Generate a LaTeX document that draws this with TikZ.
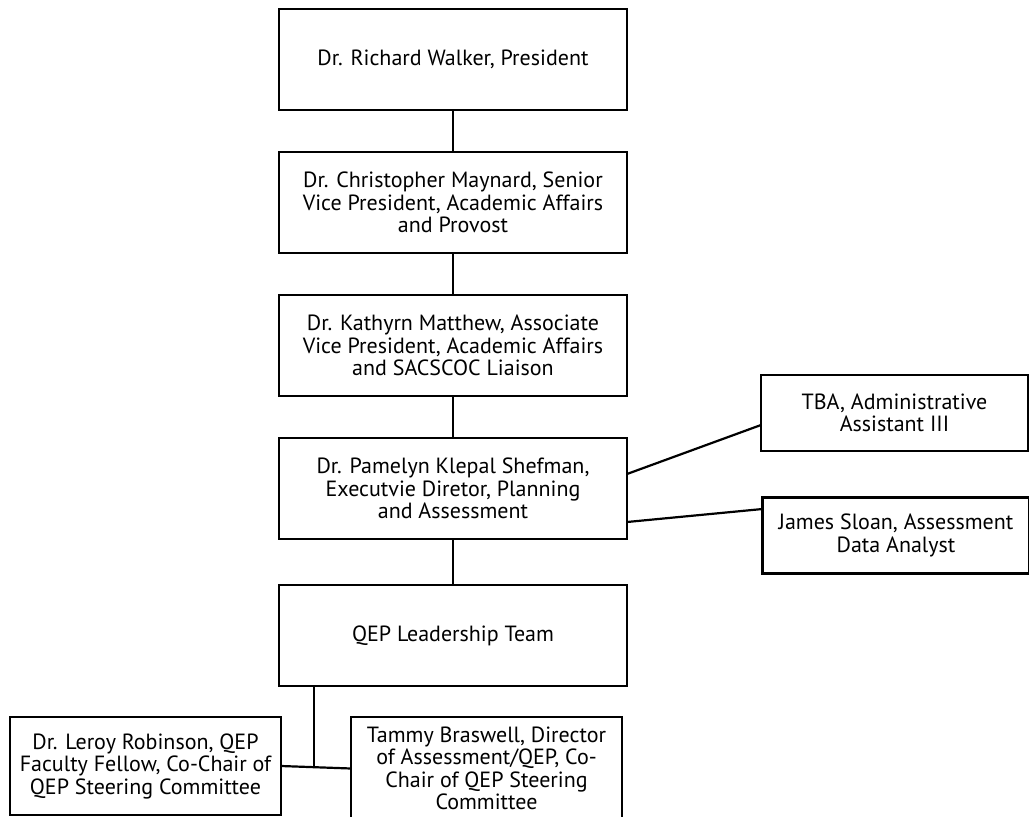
\documentclass[tikz,border=0pt]{standalone}
\usepackage{fontspec}
\setmainfont{PT Sans}
\usetikzlibrary{positioning}

\begin{document}
\begin{tikzpicture}[
  x=1pt, y=-1pt,
  node distance=42pt,
  box/.style={draw, line width=2.2pt, outer sep=0pt, inner sep=0pt, align=center,
              minimum width=348pt, minimum height=101pt,
              font=\fontsize{22}{22.5}\selectfont},
  sidebox/.style={box, minimum width=267pt, minimum height=76pt},
  lowbox/.style={box, minimum width=271pt, minimum height=98pt},
  link/.style={draw, line width=2.2pt}
]
  \useasboundingbox (0,0) rectangle (1029,817);
  % main chain
  \node[box] (pres) at (453,59.5) {Dr. Richard Walker, President};
  \node[box, below=of pres] (svp) {Dr. Christopher Maynard, Senior\\Vice President, Academic Affairs\\and Provost};
  \node[box, below=of svp] (avp) {Dr. Kathyrn Matthew, Associate\\Vice President, Academic Affairs\\and SACSCOC Liaison};
  \node[box, below=of avp] (exec) {Dr. Pamelyn Klepal Shefman,\\Executvie Diretor, Planning\\and Assessment};
  \node[box, below=46pt of exec] (qep) {QEP Leadership Team};
  % side boxes
  \node[sidebox] (tba) at (894.5,413) {TBA, Administrative\\Assistant III};
  \node[sidebox] (sloan) at (896,535.5) {James Sloan, Assessment\\Data Analyst};
  \node[lowbox] (leroy) at (145.5,766) {Dr. Leroy Robinson, QEP\\Faculty Fellow, Co-Chair of\\QEP Steering Committee};
  \node[lowbox, minimum height=103pt] (tammy) at (486.5,768.5) {Tammy Braswell, Director\\of Assessment/QEP, Co-\\Chair of QEP Steering\\Committee};
  % connectors
  \draw[link] (pres) -- (svp);
  \draw[link] (svp) -- (avp);
  \draw[link] (avp) -- (exec);
  \draw[link] (exec) -- (qep);
  \draw[link] ([yshift=14.5pt]exec.east) -- ([yshift=-12pt]tba.west);
  \draw[link] ([yshift=-33.5pt]exec.east) -- ([yshift=26.5pt]sloan.west);
  \coordinate (hub) at ([xshift=35pt]qep.south west |- leroy.east);
  \draw[link] ([xshift=35pt]qep.south west) -- (hub);
  \draw[link] (leroy.east) -- (tammy.west);
\end{tikzpicture}
\end{document}
